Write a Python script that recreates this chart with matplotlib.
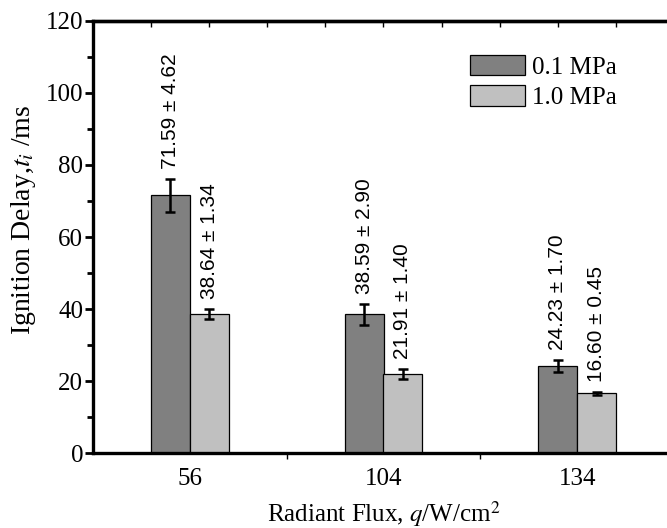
import numpy as np
import matplotlib.pyplot as plt
from matplotlib.ticker import MultipleLocator

plt.rcParams['font.family'] = 'Liberation Serif'
plt.rcParams['mathtext.fontset'] = 'stix'

flux = ['56', '104', '134']
delay_01 = [71.59, 38.59, 24.23]
err_01 = [4.62, 2.90, 1.70]
delay_10 = [38.64, 21.91, 16.60]
err_10 = [1.34, 1.40, 0.45]
labels = ['0.1 MPa', '1.0 MPa']

fig = plt.figure(figsize=(6.67, 5.28), dpi=100)
ax = fig.add_axes([93/667, 75/528, 581/667, 432/528])

x = np.arange(len(flux))
w = 0.2
ekw = dict(ecolor='black', elinewidth=1.8, capsize=3.4, capthick=1.8)
ax.bar(x - w/2, delay_01, w, yerr=err_01, color='#808080', edgecolor='black',
       linewidth=0.9, error_kw=ekw, label=labels[0])
ax.bar(x + w/2, delay_10, w, yerr=err_10, color='#c0c0c0', edgecolor='black',
       linewidth=0.9, error_kw=ekw, label=labels[1])

# value annotations
for xs, vals, errs in [(x - w/2, delay_01, err_01), (x + w/2, delay_10, err_10)]:
    for xi, v, e in zip(xs, vals, errs):
        ax.text(xi, v + e + 2.8, '%.2f \u00b1 %.2f' % (v, e), rotation=90,
                ha='center', va='bottom', fontsize=15, family='Liberation Sans')

ax.set_xlim(-0.5, 2.5)
ax.set_ylim(0, 120)
ax.set_xticks(x)
ax.set_xticklabels(flux)
ax.set_xticks([0.5, 1.5], minor=True)
ax.yaxis.set_major_locator(MultipleLocator(20))
ax.yaxis.set_minor_locator(MultipleLocator(10))
ax.tick_params(axis='x', which='major', length=0, labelsize=18, pad=11)
ax.tick_params(axis='x', which='minor', length=4, width=1)
ax.tick_params(axis='y', which='major', length=6, width=2, labelsize=18, pad=1)
ax.tick_params(axis='y', which='minor', length=4, width=2)
for s in ax.spines.values():
    s.set_linewidth(2.4)

top = ax.secondary_xaxis('top')
top.set_xticks(np.arange(-0.2, 2.4, 0.3))
top.set_xticklabels([])
top.tick_params(direction='in', length=4, width=1)
top.spines['top'].set_linewidth(2.4)

ax.set_ylabel('Ignition Delay,$t_i$ /ms', fontsize=20)
ax.yaxis.set_label_coords(-0.094, 0.54)
ax.set_xlabel('Radiant Flux, $q$/W/cm$^2$', fontsize=18, labelpad=6)

ax.legend(loc='upper left', bbox_to_anchor=(457/667, 1 - 42/528),
          bbox_transform=fig.transFigure, frameon=False, fontsize=18,
          handlelength=2.2, handleheight=0.9, handletextpad=0.3,
          labelspacing=0.25, borderpad=0)

fig.savefig('out.png', dpi=100)
